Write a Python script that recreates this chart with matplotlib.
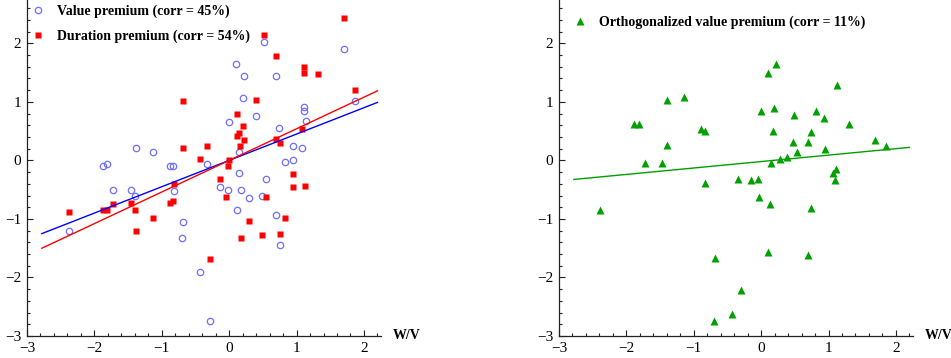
import numpy as np
import matplotlib
matplotlib.use('Agg')
import matplotlib.pyplot as plt
from matplotlib.ticker import MultipleLocator

# W/V against the standardized premia
value_x = [0.51, 0.10, 0.22, 0.70, 1.71, 0.21, 0.40, 0.00, 1.11, 1.11, 1.14, 1.87,
           0.74, 0.95, 1.08, 0.15, -1.38, -1.13, -1.87, -1.81, -0.88, -0.83, -0.33,
           0.83, 0.95, 0.15, 0.55, -0.13, -0.01, 0.18, 0.30, 0.48, 0.12, 0.70, -0.68,
           -0.70, 0.76, -1.72, -1.46, -1.40, -0.82, -2.38, -0.43, -0.28]
value_y = [2.03, 1.64, 1.45, 1.45, 1.90, 1.06, 0.75, 0.65, 0.91, 0.84, 0.67, 1.01,
           0.56, 0.24, 0.21, 0.14, 0.21, 0.14, -0.10, -0.07, -0.09, -0.09, -0.07,
           -0.02, 0.00, -0.22, -0.31, -0.46, -0.51, -0.51, -0.65, -0.60, -0.85, -0.94,
           -1.06, -1.32, -1.45, -0.51, -0.51, -0.60, -0.53, -1.21, -1.91, -2.75]

duration_x = [1.71, 0.51, 0.70, 1.11, 1.11, 1.32, 0.40, 1.87, -0.68, 0.12, 0.21, 0.15,
              0.12, 0.22, 0.16, -0.33, -0.68, 1.08, 0.70, 0.76, -0.43, 0.00, -0.01,
              -0.13, 0.95, 0.95, 1.13, -0.04, 0.55, 0.30, 0.83, 0.18, 0.48, 0.76, -0.28,
              -0.82, -0.88, -0.83, -1.46, -1.40, -1.72, -1.87, -1.81, -2.38, -1.13, -1.38]
duration_y = [2.43, 2.15, 1.78, 1.59, 1.49, 1.47, 1.04, 1.20, 1.01, 0.79, 0.58, 0.46,
              0.41, 0.34, 0.24, 0.24, 0.22, 0.53, 0.36, 0.29, 0.02, 0.00, -0.10, -0.32,
              -0.24, -0.46, -0.44, -0.63, -0.62, -1.03, -0.99, -1.32, -1.28, -1.26, -1.68,
              -0.41, -0.72, -0.70, -0.72, -0.85, -0.74, -0.85, -0.84, -0.89, -0.99, -1.21]

ortho_x = [-2.39, -1.88, -1.81, -1.39, -1.39, -1.73, -1.47, -1.14, -0.89, -0.84, -0.83,
           -0.34, -0.68, -0.30, -0.70, -0.44, 0.22, 0.10, 1.13, 0.00, 0.19, 0.49, 0.81,
           0.93, 1.30, 0.18, 0.74, 0.47, 0.70, 0.53, 0.95, 1.69, 1.85, 0.15, 0.28, 0.39,
           1.07, 1.11, 1.10, -0.15, -0.04, -0.03, 0.13, 0.74, 0.10, 0.70]
ortho_y = [-0.84, 0.62, 0.63, 1.03, 0.26, -0.05, -0.05, 1.08, 0.53, 0.50, -0.38,
           -0.32, -1.66, -2.21, -2.74, -2.63, 1.64, 1.49, 1.28, 0.84, 0.89, 0.77, 0.84,
           0.72, 0.62, 0.50, 0.48, 0.32, 0.31, 0.14, 0.19, 0.34, 0.24, -0.05, 0.02, 0.05,
           -0.21, -0.15, -0.34, -0.34, -0.31, -0.63, -0.75, -0.82, -1.56, -1.62]

corr_value = 0.45
corr_duration = 0.54
corr_ortho = 0.11

fit_x = np.array([-2.78, 2.2])

SERIF = ['Liberation Serif', 'DejaVu Serif']


def style_axes(ax):
    ax.set_xlim(-3, 2.25)
    ax.set_ylim(-3, 2.74)
    for side in ('top', 'right'):
        ax.spines[side].set_visible(False)
    for side in ('left', 'bottom'):
        ax.spines[side].set_linewidth(0.9)
        ax.spines[side].set_color('#222222')
    ax.xaxis.set_major_locator(MultipleLocator(1))
    ax.xaxis.set_minor_locator(MultipleLocator(0.2))
    ax.yaxis.set_major_locator(MultipleLocator(1))
    ax.yaxis.set_minor_locator(MultipleLocator(0.2))
    ax.tick_params(which='both', direction='in', width=0.8, color='#222222',
                   labelsize=11)
    ax.tick_params(which='major', length=4, pad=4)
    ax.tick_params(which='minor', length=2.5)
    for lab in ax.get_xticklabels() + ax.get_yticklabels():
        lab.set_family(SERIF)
    ax.text(1.033, 0.0, 'W/V', transform=ax.transAxes, ha='left', va='center',
            family=SERIF, fontweight='bold', fontsize=10, clip_on=False)


def main():
    fig = plt.figure(figsize=(9.51, 3.58), dpi=100)
    ax1 = fig.add_axes([0.0284, 0.0615, 0.372, 0.9385])
    ax2 = fig.add_axes([0.5878, 0.0615, 0.372, 0.9385])

    ax1.plot(value_x, value_y, 'o', ms=4.6, mfc='none', mec='#6f6fff', mew=0.9,
             label=f'Value premium (corr = {corr_value:.0%})')
    ax1.plot(duration_x, duration_y, 's', ms=4.6, color='#ff0000', mec='none',
             label=f'Duration premium (corr = {corr_duration:.0%})')
    ax1.plot(fit_x, corr_value * fit_x, color='#0000ff', lw=1.0)
    ax1.plot(fit_x, corr_duration * fit_x, color='#ff0000', lw=1.0)

    ax2.plot(ortho_x, ortho_y, '^', ms=6, color='#00a000', mec='none',
             label=f'Orthogonalized value premium (corr = {corr_ortho:.0%})')
    ax2.plot(fit_x, corr_ortho * fit_x - 0.02, color='#00a000', lw=1.0)

    for ax in (ax1, ax2):
        style_axes(ax)

    leg_font = {'family': SERIF, 'weight': 'bold', 'size': 10}
    ax1.legend(loc='upper left', bbox_to_anchor=(-0.005, 1.002), frameon=False,
               prop=leg_font, handlelength=1.0, handletextpad=0.9,
               labelspacing=0.8, borderaxespad=0)
    ax2.legend(loc='upper left', bbox_to_anchor=(0.024, 0.971), frameon=False,
               prop=leg_font, handlelength=1.0, handletextpad=0.9, borderaxespad=0)

    fig.savefig('out.png', dpi=100)


if __name__ == '__main__':
    main()
